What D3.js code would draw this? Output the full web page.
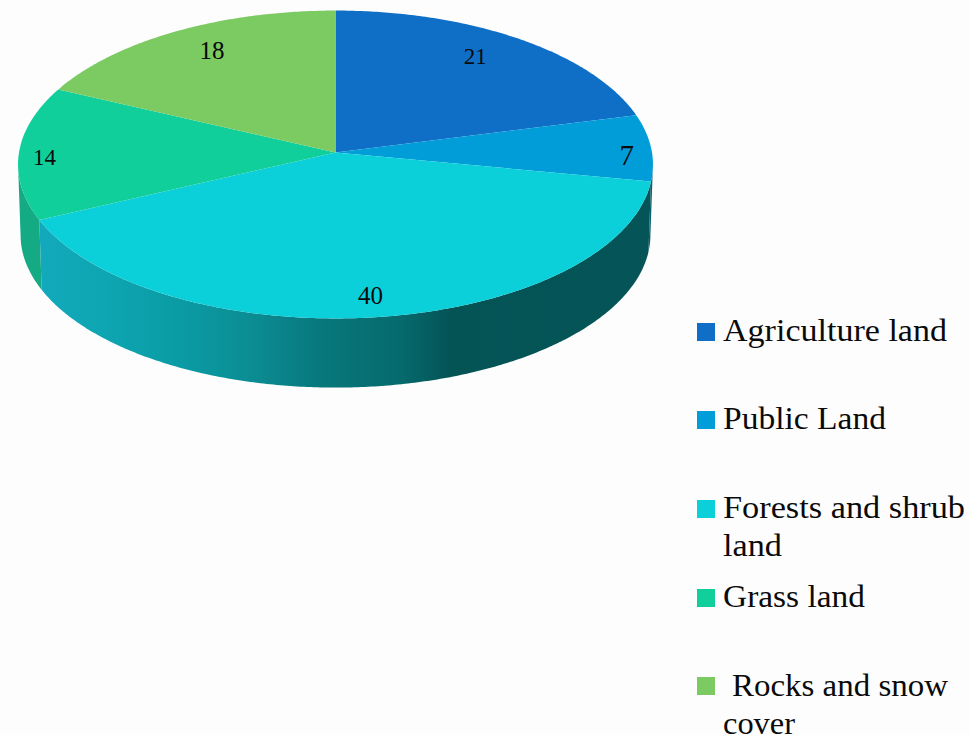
<!DOCTYPE html>
<html><head><meta charset="utf-8">
<script src="https://cdn.jsdelivr.net/npm/d3@7"></script>
<style>html,body{margin:0;padding:0;background:#fdfdfd}svg{display:block}
text{font-family:"Liberation Serif",serif;fill:#0a0a0a;font-feature-settings:"onum"}</style>
</head><body><svg id="c" width="969" height="735"></svg>
<script>
// Data
const categories = ["Agriculture land","Public Land","Forests and shrub land","Grass land","Rocks and snow cover"];
const values = [21,7,40,14,18];
const colors = ["#0f6fc6","#009dd9","#0bd0d9","#10cf9b","#7cca62"];
const wallColors = ["#0a4f8c","#05606f",null,"#14ab84","#5a9a48"];
const legendLines = [["Agriculture land"],["Public Land"],["Forests and shrub","land"],["Grass land"],[" Rocks and snow","cover"]];

// Layout
const W=969,H=735,cx=335.5,cy=152.5,R=316.5,S=153,k=0.0779,depth=70.5,bottomScale=0.992;
const labelFraction=.85;
const labelNudge=[[-17,2],[23,7],[-1,5],[-22,5],[13,2]];
const labelSize=[23,29,25,23,25];
const legendBase=[341,429,518,607,696], legendLeading=37.5;
const legendSwatchX=697, legendSwatchSize=18, legendTextX=723;
const legendLineWidths=[[224],[163],[242,59],[142],[216,72]];

const svg=d3.select("#c");
function proj(a,f=1,s=1,dy=0){ // a: clockwise from top; tilted disc in perspective
  const u=Math.sin(a)*f, v=-Math.cos(a)*f, d=1-k*v;
  return [cx+s*R*u/d, cy+s*S*v/d+dy];
}
const arcs=d3.pie().sort(null).value(d=>d)(values);
const line=d3.line();
const sample=(a0,a1,fn)=>{const n=Math.max(2,Math.ceil(Math.abs(a1-a0)/0.01));
  return d3.range(n+1).map(i=>fn(a0+(a1-a0)*i/n));};

// wall gradient
const defs=svg.append("defs");
const wallStops=[[42,"#12a9bd"],[100,"#0ea6b2"],[170,"#0a9da6"],[250,"#0b8d94"],[320,"#07787c"],[400,"#066a6d"],[450,"#045456"],[652,"#055558"]];
const g=defs.append("linearGradient").attr("id","wall").attr("gradientUnits","userSpaceOnUse")
  .attr("x1",wallStops[0][0]).attr("x2",wallStops[wallStops.length-1][0]).attr("y1",0).attr("y2",0);
wallStops.forEach(s=>g.append("stop").attr("offset",(s[0]-42)/(652-42)).attr("stop-color",s[1]));

// side walls (visible front part of the rim)
const vis0=Math.acos(-k), vis1=2*Math.PI-vis0;
arcs.forEach((d,i)=>{
  const a0=Math.max(d.startAngle,vis0), a1=Math.min(d.endAngle,vis1);
  if(a1<=a0) return;
  const pts=sample(a0,a1,a=>proj(a)).concat(sample(a1,a0,a=>proj(a,1,bottomScale,depth)));
  svg.append("path").attr("d",line(pts)+"Z").attr("fill",i===2?"url(#wall)":wallColors[i]);
});
// top faces
arcs.forEach((d,i)=>{
  const pts=[[cx,cy]].concat(sample(d.startAngle,d.endAngle,a=>proj(a)));
  svg.append("path").attr("d",line(pts)+"Z").attr("fill",colors[i]);
});
// value labels
arcs.forEach((d,i)=>{
  const p=proj((d.startAngle+d.endAngle)/2,labelFraction);
  svg.append("text").attr("x",p[0]+labelNudge[i][0]).attr("y",p[1]+labelNudge[i][1])
    .attr("text-anchor","middle").attr("dominant-baseline","central")
    .attr("font-size",labelSize[i]).text(values[i]);
});
// legend
categories.forEach((c,i)=>{
  svg.append("rect").attr("x",legendSwatchX).attr("y",legendBase[i]-(i===4?19:18)).attr("width",legendSwatchSize).attr("height",legendSwatchSize).attr("fill",colors[i]);
  legendLines[i].forEach((t,j)=>{
    const txt=t.trim(), x=legendTextX+(t!==txt?9:0);
    svg.append("text").attr("x",x).attr("y",legendBase[i]+j*legendLeading)
      .attr("font-size",32).attr("textLength",legendLineWidths[i][j]).attr("lengthAdjust","spacingAndGlyphs").text(txt);
  });
});
</script></body></html>
